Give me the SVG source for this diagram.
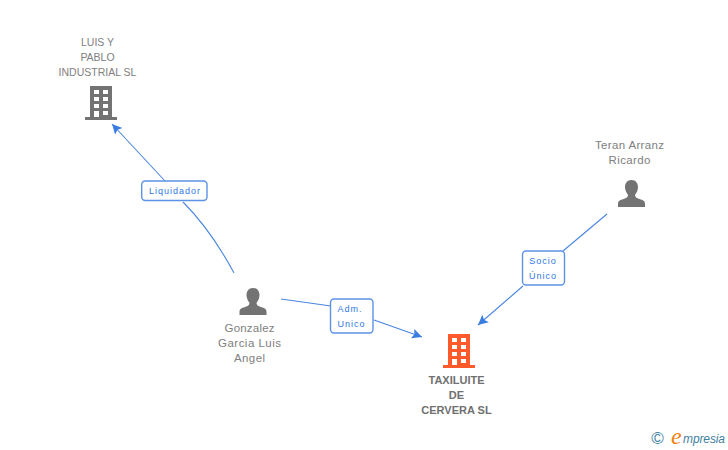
<svg xmlns="http://www.w3.org/2000/svg" width="728" height="450" viewBox="0 0 728 450">
<style>
text{font-family:"Liberation Sans",Arial,sans-serif}
.n{font-size:11.500px;fill:#808080;text-anchor:middle}
.u{font-size:10.500px}
.b{font-size:11px;fill:#707070;font-weight:bold;text-anchor:middle}
.l{font-size:9px;fill:#2f78e4;text-anchor:middle;letter-spacing:1px}
.c{fill:none;stroke:#4a86e0;stroke-width:1.1}
.box{fill:#fff;stroke:#5b93e6;stroke-width:1.4}
.g{fill:#737373}.o{fill:#ff5a2c}.w{fill:#fff}
</style>
<defs>
<marker id="a" markerUnits="userSpaceOnUse" markerWidth="12" markerHeight="12" refX="10" refY="5" orient="auto"><path d="M0 0L10 5L0 10L2 5Z" fill="#3b7de0"/></marker>
<g id="bld"><path d="M5 0H27V31H32V34H0V31H5Z"/><g class="w"><rect x="9" y="4" width="5" height="4"/><rect x="18" y="4" width="5" height="4"/><rect x="9" y="11" width="5" height="4"/><rect x="18" y="11" width="5" height="4"/><rect x="9" y="18" width="5" height="4"/><rect x="18" y="18" width="5" height="4"/><rect x="9" y="25" width="5" height="6"/><rect x="18" y="25" width="5" height="4"/></g></g>
<path id="per" d="M13.500 0C18 0 20 3.500 20 7C20 10 18.500 13 17 15C17 17 18.500 18 21.500 19C25 20 27 21 27 24V27H0V24C0 21 2 20 5.500 19C8.500 18 10 17 10 15C8.500 13 7 10 7 7C7 3.500 9 0 13.500 0Z"/>
</defs>
<g id="connectors">
<path class="c" d="M234 273C220 247 203 222 183 202"/><path class="c" marker-end="url(#a)" d="M165 181L112 124"/>
<path class="c" d="M281 299L331 306"/><path class="c" marker-end="url(#a)" d="M374 320L422 337"/>
<path class="c" d="M607 214L563 251"/><path class="c" marker-end="url(#a)" d="M523 286L478 325"/>
</g>
<g id="node-luis"><text class="n u" x="97.500" y="46">LUIS Y</text><text class="n u" x="97.500" y="61">PABLO</text><text class="n u" x="97.500" y="76">INDUSTRIAL SL</text><use href="#bld" x="85" y="86" class="g"/></g>
<g id="node-teran"><text class="n" x="629.500" y="149" textLength="69">Teran Arranz</text><text class="n" x="629.500" y="164" textLength="42">Ricardo</text><use href="#per" x="618" y="180" class="g"/></g>
<g id="node-gonzalez"><use href="#per" x="239.500" y="288" class="g"/><text class="n" x="249.500" y="332" textLength="50">Gonzalez</text><text class="n" x="249.500" y="347" textLength="63">Garcia Luis</text><text class="n" x="249.500" y="362" textLength="31">Angel</text></g>
<g id="node-taxiluite"><use href="#bld" x="443" y="334" class="o"/><text class="b" x="456.500" y="384">TAXILUITE</text><text class="b" x="456.500" y="399">DE</text><text class="b" x="456.500" y="414">CERVERA SL</text></g>
<g id="label-liquidador"><rect class="box" x="141.700" y="181" width="65.300" height="19.500" rx="3.500"/><text class="l" x="175" y="194">Liquidador</text></g>
<g id="label-adm"><rect class="box" x="330.500" y="299" width="42.500" height="34" rx="3.500"/><text class="l" x="350" y="312">Adm.</text><text class="l" x="351.500" y="327">Unico</text></g>
<g id="label-socio"><rect class="box" x="522.500" y="251" width="42" height="34" rx="3.500"/><text class="l" x="543" y="264">Socio</text><text class="l" x="543" y="279">Único</text></g>
<g id="logo"><text x="657.500" y="444" font-size="17" fill="#3f7f9f" text-anchor="middle">©</text><text x="671" y="444" font-size="24" fill="#f08010" font-style="italic" style="font-family:'Liberation Serif',serif">e</text><text x="683" y="443" font-size="12" fill="#3f7f9f" font-style="italic" textLength="42">mpresia</text></g>
</svg>
